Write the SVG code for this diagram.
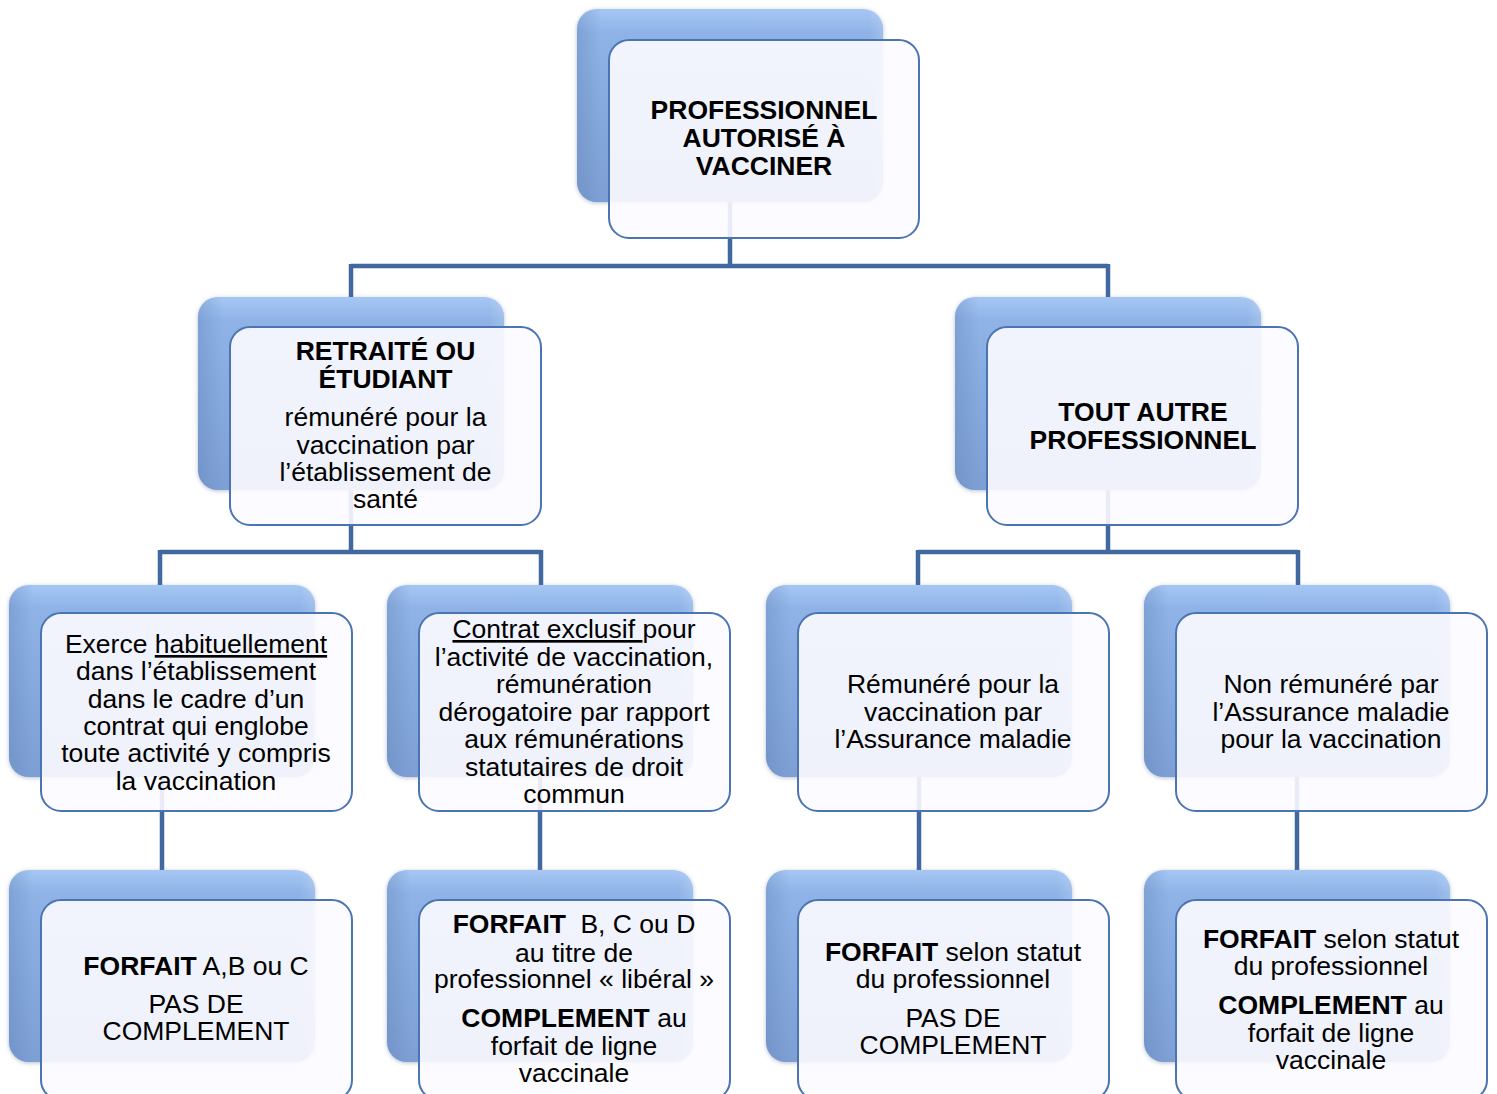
<svg xmlns="http://www.w3.org/2000/svg" width="1497" height="1094" viewBox="0 0 1497 1094">
<defs>
<linearGradient id="bg" x1="0" y1="0" x2="0" y2="1">
<stop offset="0" stop-color="#a6c7f4"/>
<stop offset="0.12" stop-color="#8fb3e7"/>
<stop offset="1" stop-color="#7d9fd3"/>
</linearGradient>
<linearGradient id="sideshade" x1="0" y1="0" x2="1" y2="0">
<stop offset="0" stop-color="#5f80b6" stop-opacity="0.35"/>
<stop offset="0.08" stop-color="#5f80b6" stop-opacity="0"/>
<stop offset="0.95" stop-color="#ffffff" stop-opacity="0"/>
<stop offset="1" stop-color="#ffffff" stop-opacity="0.15"/>
</linearGradient>
<filter id="sh" x="-10%" y="-10%" width="120%" height="120%">
<feGaussianBlur in="SourceAlpha" stdDeviation="2"/>
<feOffset dx="0" dy="1" result="b"/>
<feFlood flood-color="#6a7ea0" flood-opacity="0.5"/>
<feComposite in2="b" operator="in"/>
<feMerge><feMergeNode/><feMergeNode in="SourceGraphic"/></feMerge>
</filter>
</defs>
<style>
.back{fill:url(#bg);filter:url(#sh)}
.shade{fill:url(#sideshade)}
.front{fill:#fcfbff;fill-opacity:0.9;stroke:#4b75b2;stroke-width:2}
.conn{fill:none;stroke:#41689f;stroke-width:4.5}
text{font-family:"Liberation Sans",Arial,sans-serif;font-size:26.5px;fill:#000;text-anchor:middle}
.b{font-weight:bold}
.u{text-decoration:underline}
</style>

<g id="connectors">
<path class="conn" d="M730 200 V266 M351 266 H1108 M351 264 V300 M1108 264 V300"/>
<path class="conn" d="M351 488 V552 M160 552 H541 M160 550 V588 M541 550 V588"/>
<path class="conn" d="M1108 488 V552 M918 552 H1298 M918 550 V588 M1298 550 V588"/>
<path class="conn" d="M162 775 V873 M540 775 V873 M919 775 V873 M1297 775 V873"/>
</g>

<g id="n-top">
<rect class="back" x="577" y="9" width="306" height="193" rx="20"/>
<rect class="shade" x="577" y="9" width="306" height="193" rx="20"/>
<rect class="front" x="609" y="40" width="310" height="198" rx="20"/>
<text class="b"><tspan x="764" y="119">PROFESSIONNEL</tspan><tspan x="764" y="147">AUTORISÉ À</tspan><tspan x="764" y="175">VACCINER</tspan></text>
</g>

<g id="n-retraite">
<rect class="back" x="198" y="297" width="306" height="193" rx="20"/>
<rect class="shade" x="198" y="297" width="306" height="193" rx="20"/>
<rect class="front" x="230" y="327" width="311" height="198" rx="20"/>
<text><tspan class="b" x="385.5" y="360">RETRAITÉ OU</tspan><tspan class="b" x="385.5" y="388">ÉTUDIANT</tspan><tspan x="385.5" y="426">rémunéré pour la</tspan><tspan x="385.5" y="454">vaccination par</tspan><tspan x="385.5" y="481">l’établissement de</tspan><tspan x="385.5" y="508">santé</tspan></text>
</g>

<g id="n-autre">
<rect class="back" x="955" y="297" width="306" height="193" rx="20"/>
<rect class="shade" x="955" y="297" width="306" height="193" rx="20"/>
<rect class="front" x="987" y="327" width="311" height="198" rx="20"/>
<text class="b"><tspan x="1143" y="421">TOUT AUTRE</tspan><tspan x="1143" y="449">PROFESSIONNEL</tspan></text>
</g>

<g id="n-exerce">
<rect class="back" x="9" y="585" width="306" height="192" rx="20"/>
<rect class="shade" x="9" y="585" width="306" height="192" rx="20"/>
<rect class="front" x="41" y="613" width="311" height="198" rx="20"/>
<text><tspan x="196" y="653">Exerce <tspan class="u">habituellement</tspan></tspan><tspan x="196" y="680">dans l’établissement</tspan><tspan x="196" y="708">dans le cadre d’un</tspan><tspan x="196" y="735">contrat qui englobe</tspan><tspan x="196" y="762">toute activité y compris</tspan><tspan x="196" y="790">la vaccination</tspan></text>
</g>

<g id="n-contrat">
<rect class="back" x="387" y="585" width="306" height="192" rx="20"/>
<rect class="shade" x="387" y="585" width="306" height="192" rx="20"/>
<rect class="front" x="419" y="613" width="311" height="198" rx="20"/>
<text><tspan x="574" y="638"><tspan class="u">Contrat exclusif </tspan>pour</tspan><tspan x="574" y="666">l’activité de vaccination,</tspan><tspan x="574" y="693">rémunération</tspan><tspan x="574" y="721">dérogatoire par rapport</tspan><tspan x="574" y="748">aux rémunérations</tspan><tspan x="574" y="776">statutaires de droit</tspan><tspan x="574" y="803">commun</tspan></text>
</g>

<g id="n-remunere">
<rect class="back" x="766" y="585" width="306" height="192" rx="20"/>
<rect class="shade" x="766" y="585" width="306" height="192" rx="20"/>
<rect class="front" x="798" y="613" width="311" height="198" rx="20"/>
<text><tspan x="953" y="693">Rémunéré pour la</tspan><tspan x="953" y="721">vaccination par</tspan><tspan x="953" y="748">l’Assurance maladie</tspan></text>
</g>

<g id="n-nonremunere">
<rect class="back" x="1144" y="585" width="306" height="192" rx="20"/>
<rect class="shade" x="1144" y="585" width="306" height="192" rx="20"/>
<rect class="front" x="1176" y="613" width="311" height="198" rx="20"/>
<text><tspan x="1331" y="693">Non rémunéré par</tspan><tspan x="1331" y="721">l’Assurance maladie</tspan><tspan x="1331" y="748">pour la vaccination</tspan></text>
</g>

<g id="n-forfait1">
<rect class="back" x="9" y="870" width="306" height="192" rx="20"/>
<rect class="shade" x="9" y="870" width="306" height="192" rx="20"/>
<rect class="front" x="41" y="900" width="311" height="200" rx="20"/>
<text><tspan x="196" y="975"><tspan class="b">FORFAIT</tspan> A,B ou C</tspan><tspan x="196" y="1013">PAS DE</tspan><tspan x="196" y="1040">COMPLEMENT</tspan></text>
</g>

<g id="n-forfait2">
<rect class="back" x="387" y="870" width="306" height="192" rx="20"/>
<rect class="shade" x="387" y="870" width="306" height="192" rx="20"/>
<rect class="front" x="419" y="900" width="311" height="200" rx="20"/>
<text><tspan x="574" y="933"><tspan class="b">FORFAIT</tspan><tspan dx="7"> B, C ou D</tspan></tspan><tspan x="574" y="962">au titre de</tspan><tspan x="574" y="988">professionnel « libéral »</tspan><tspan x="574" y="1027"><tspan class="b">COMPLEMENT</tspan> au</tspan><tspan x="574" y="1055">forfait de ligne</tspan><tspan x="574" y="1082">vaccinale</tspan></text>
</g>

<g id="n-forfait3">
<rect class="back" x="766" y="870" width="306" height="192" rx="20"/>
<rect class="shade" x="766" y="870" width="306" height="192" rx="20"/>
<rect class="front" x="798" y="900" width="311" height="200" rx="20"/>
<text><tspan x="953" y="961"><tspan class="b">FORFAIT</tspan> selon statut</tspan><tspan x="953" y="988">du professionnel</tspan><tspan x="953" y="1027">PAS DE</tspan><tspan x="953" y="1054">COMPLEMENT</tspan></text>
</g>

<g id="n-forfait4">
<rect class="back" x="1144" y="870" width="306" height="192" rx="20"/>
<rect class="shade" x="1144" y="870" width="306" height="192" rx="20"/>
<rect class="front" x="1176" y="900" width="311" height="200" rx="20"/>
<text><tspan x="1331" y="948"><tspan class="b">FORFAIT</tspan> selon statut</tspan><tspan x="1331" y="975">du professionnel</tspan><tspan x="1331" y="1014"><tspan class="b">COMPLEMENT</tspan> au</tspan><tspan x="1331" y="1042">forfait de ligne</tspan><tspan x="1331" y="1069">vaccinale</tspan></text>
</g>
</svg>
